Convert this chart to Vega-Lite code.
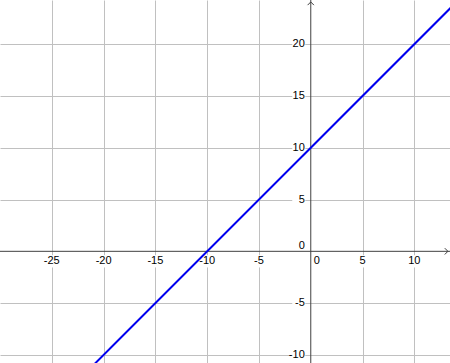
{
  "$schema": "https://vega.github.io/schema/vega-lite/v6.json",
  "width": 450,
  "height": 363,
  "autosize": {"type": "none"},
  "padding": 0,
  "background": "white",
  "config": {"view": {"stroke": null}},
  "datasets": {
    "line": [{"x": -21, "y": -11}, {"x": 14, "y": 24}],
    "xlabels": [
      {"v": -25, "t": "-25"}, {"v": -20, "t": "-20"}, {"v": -15, "t": "-15"},
      {"v": -10, "t": "-10"}, {"v": -5, "t": "-5"}, {"v": 5, "t": "5"}, {"v": 10, "t": "10"}
    ],
    "ylabels": [
      {"v": -10, "t": "-10"}, {"v": -5, "t": "-5"}, {"v": 5, "t": "5"},
      {"v": 10, "t": "10"}, {"v": 15, "t": "15"}, {"v": 20, "t": "20"}
    ],
    "origin": [{"x": 0, "y": 0, "t": "0"}],
    "arrows": [{"x": 13.24, "y": 0, "dir": "right"}, {"x": 0, "y": 24.07, "dir": "up"}]
  },
  "layer": [
    {
      "data": {"name": "line"},
      "mark": {"type": "line", "opacity": 0},
      "encoding": {
        "x": {
          "field": "x", "type": "quantitative",
          "scale": {"domain": [-30.0, 13.44], "nice": false, "zero": false},
          "axis": {"grid": true, "values": [-25, -20, -15, -10, -5, 5, 10], "labels": false, "ticks": false, "domain": false, "title": null, "gridColor": "#c0c0c0", "gridWidth": 1}
        },
        "y": {
          "field": "y", "type": "quantitative",
          "scale": {"domain": [-10.78, 24.26], "nice": false, "zero": false},
          "axis": {"grid": true, "values": [-10, -5, 5, 10, 15, 20], "labels": false, "ticks": false, "domain": false, "title": null, "gridColor": "#c0c0c0", "gridWidth": 1}
        }
      }
    },
    {
      "data": {"name": "xlabels"},
      "mark": {"type": "point", "shape": "square", "filled": true, "color": "white", "opacity": 1, "size": 150, "yOffset": 10},
      "encoding": {
        "x": {"field": "v", "type": "quantitative"},
        "y": {"datum": 0, "type": "quantitative"}
      }
    },
    {
      "data": {"name": "ylabels"},
      "mark": {"type": "point", "shape": "square", "filled": true, "color": "white", "opacity": 1, "size": 170, "xOffset": -12},
      "encoding": {
        "x": {"datum": 0, "type": "quantitative"},
        "y": {"field": "v", "type": "quantitative"}
      }
    },
    {
      "data": {"name": "xlabels"},
      "mark": {"type": "text", "font": "Liberation Sans", "fontSize": 11, "color": "black", "align": "center", "baseline": "middle", "dy": 10},
      "encoding": {
        "x": {"field": "v", "type": "quantitative"},
        "y": {"datum": 0, "type": "quantitative"},
        "text": {"field": "t"}
      }
    },
    {
      "data": {"name": "ylabels"},
      "mark": {"type": "text", "font": "Liberation Sans", "fontSize": 11, "color": "black", "align": "right", "baseline": "middle", "dx": -6},
      "encoding": {
        "x": {"datum": 0, "type": "quantitative"},
        "y": {"field": "v", "type": "quantitative"},
        "text": {"field": "t"}
      }
    },
    {
      "data": {"name": "origin"},
      "mark": {"type": "text", "font": "Liberation Sans", "fontSize": 11, "color": "black", "align": "left", "baseline": "middle", "dx": 3, "dy": 10},
      "encoding": {
        "x": {"field": "x", "type": "quantitative"},
        "y": {"field": "y", "type": "quantitative"},
        "text": {"field": "t"}
      }
    },
    {
      "data": {"name": "origin"},
      "mark": {"type": "text", "font": "Liberation Sans", "fontSize": 11, "color": "black", "align": "right", "baseline": "middle", "dx": -6, "dy": -5},
      "encoding": {
        "x": {"field": "x", "type": "quantitative"},
        "y": {"field": "y", "type": "quantitative"},
        "text": {"field": "t"}
      }
    },
    {
      "data": {"name": "origin"},
      "mark": {"type": "rule", "color": "#404040", "strokeWidth": 1},
      "encoding": {"y": {"field": "y", "type": "quantitative"}}
    },
    {
      "data": {"name": "origin"},
      "mark": {"type": "rule", "color": "#404040", "strokeWidth": 1},
      "encoding": {"x": {"field": "x", "type": "quantitative"}}
    },
    {
      "data": {"name": "arrows"},
      "transform": [{"filter": "datum.dir === 'right'"}],
      "mark": {"type": "point", "shape": "M-1,-1L0,0L-1,1", "filled": false, "color": "#404040", "strokeWidth": 1, "size": 40, "opacity": 1},
      "encoding": {
        "x": {"field": "x", "type": "quantitative"},
        "y": {"field": "y", "type": "quantitative"}
      }
    },
    {
      "data": {"name": "arrows"},
      "transform": [{"filter": "datum.dir === 'up'"}],
      "mark": {"type": "point", "shape": "M-1,1L0,0L1,1", "filled": false, "color": "#404040", "strokeWidth": 1, "size": 40, "opacity": 1},
      "encoding": {
        "x": {"field": "x", "type": "quantitative"},
        "y": {"field": "y", "type": "quantitative"}
      }
    },
    {
      "data": {"name": "line"},
      "mark": {"type": "line", "color": "#0000ee", "strokeWidth": 2, "clip": true},
      "encoding": {
        "x": {"field": "x", "type": "quantitative"},
        "y": {"field": "y", "type": "quantitative"}
      }
    }
  ]
}
